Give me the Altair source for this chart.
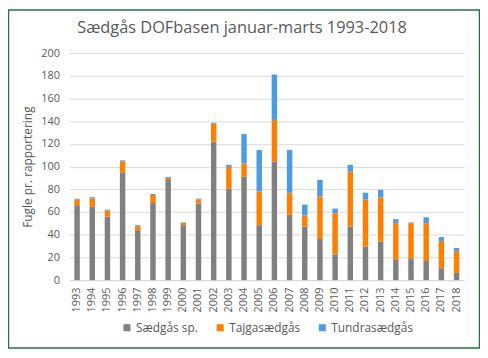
import altair as alt
import pandas as pd

years = ["1993", "1994", "1995", "1996", "1997", "1998", "1999", "2000", "2001",
         "2002", "2003", "2004", "2005", "2006", "2007", "2008", "2009", "2010",
         "2011", "2012", "2013", "2014", "2015", "2016", "2017", "2018"]
saedgas = [66, 65, 56, 95, 44, 68, 89, 48.4, 67.5, 122, 80.5, 91, 48.4, 104.4,
           57.7, 47.2, 36.2, 22.7, 47.2, 29.7, 34.1, 18.4, 19.2, 16.9, 10.5, 6.4]
tajga = [5, 7, 5.3, 9.6, 3.5, 7, 1, 2, 3.7, 15.7, 19.2, 11.6, 29.7, 36.7,
         19.3, 9.9, 37.6, 36.2, 48.4, 41.4, 38.8, 31.8, 31, 33.3, 23.9, 19.2]
tundra = [0.7, 1, 0.8, 0.9, 0.9, 0.9, 0.8, 0.4, 0.6, 0.9, 1.8, 26, 36.5, 40,
          37.6, 9.4, 14.6, 4.1, 5.9, 5.9, 6.7, 3.5, 0.6, 5.2, 3.5, 2.7]
series = ["Sædgås sp.", "Tajgasædgås", "Tundrasædgås"]
colors = ["#808080", "#FF7F00", "#4D9BE0"]
y_ticks = [0, 20, 40, 60, 80, 100, 120, 140, 160, 180, 200]

rows = []
for k, (name, vals) in enumerate(zip(series, [saedgas, tajga, tundra])):
    for yr, v in zip(years, vals):
        rows.append({"year": yr, "series": name, "value": v, "k": k})
df = pd.DataFrame(rows)

txt = "#595959"
grid = "#D9D9D9"

bars = alt.Chart(df).mark_bar(size=5.5).encode(
    x=alt.X("year:N", sort=years,
            scale=alt.Scale(paddingInner=0, paddingOuter=0),
            axis=alt.Axis(title=None, labelAngle=-90, labelPadding=7, ticks=False,
                          domainColor=grid, labelColor=txt, labelFontSize=11,
                          grid=False)),
    y=alt.Y("value:Q", stack="zero",
            scale=alt.Scale(domain=[0, 200], nice=False),
            axis=alt.Axis(values=y_ticks, title="Fugle pr. rapportering",
                          domain=False, ticks=False, labelPadding=10,
                          labelColor=txt, labelFontSize=11, gridColor=grid,
                          titleColor=txt, titleFontSize=12, titleFontWeight="normal",
                          titlePadding=6)),
    color=alt.Color("series:N", scale=alt.Scale(domain=series, range=colors),
                    legend=alt.Legend(title=None, orient="none", legendX=52, legendY=271,
                                      direction="horizontal", symbolType="square",
                                      symbolSize=50, symbolStrokeWidth=0,
                                      labelFontSize=12, labelColor=txt,
                                      columnPadding=16, labelOffset=3)),
    order=alt.Order("k:Q", sort="ascending"),
)

border = alt.Chart(pd.DataFrame({"a": [0]})).mark_rect(
    fillOpacity=0, stroke="#1F7244", strokeWidth=1.5
).encode(x=alt.value(-61.5), x2=alt.value(413.5), y=alt.value(-43.5), y2=alt.value(297.5))

chart = alt.layer(border, bars).properties(
    width=398, height=229,
    title=alt.Title("Sædgås DOFbasen januar-marts 1993-2018", fontSize=16.5,
                    fontWeight="normal", color=txt, anchor="middle", dx=-25, offset=-28,
                    frame="group"),
    autosize=alt.AutoSizeParams(type="none"),
    padding={"left": 62, "top": 44, "right": 16, "bottom": 69},
).configure(font="Open Sans").configure_view(stroke=None)

chart.save("out.html", embed_options={"renderer": "svg", "actions": False})
